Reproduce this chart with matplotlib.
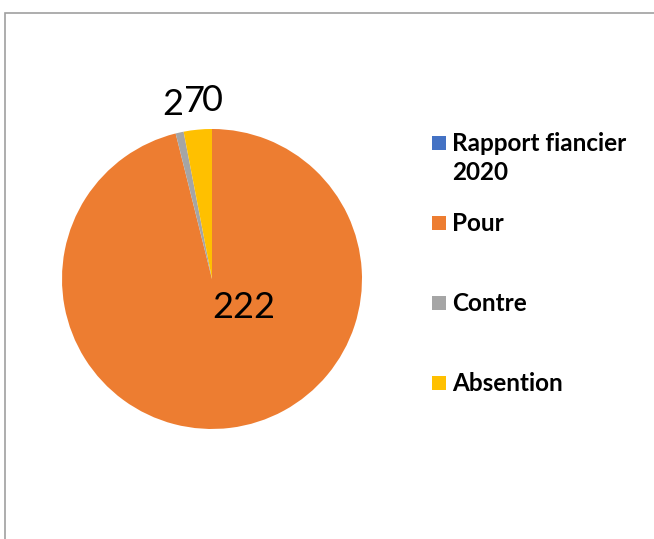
import numpy as np
import matplotlib
matplotlib.use("Agg")
import matplotlib.pyplot as plt
from matplotlib.patches import Rectangle

categories = ["Rapport fiancier\n2020", "Pour", "Contre", "Absention"]
values = [0, 222, 2, 7]
colors = ["#4472C4", "#ED7D31", "#A5A5A5", "#FFC000"]

plt.rcParams['font.family'] = ['Lato', 'DejaVu Sans']

W, H = 654, 539
fig = plt.figure(figsize=(W / 100, H / 100), dpi=100)

# chart area border (clipped at right and bottom)
fig.patches.append(Rectangle((5 / W, -0.1), 1.2, 1 - 13 / H + 0.1,
                             transform=fig.transFigure, fill=False,
                             edgecolor="#A0A0A0", linewidth=1.2))

ax = fig.add_axes([0.0948, 0.2041, 0.4587, 0.5566])
wedges, _ = ax.pie(values, colors=colors, startangle=90, counterclock=False,
                   radius=1.0, wedgeprops=dict(linewidth=0))
ax.set_xlim(-1, 1)
ax.set_ylim(-1, 1)
ax.set_aspect('equal')
ax.axis('off')

# data labels
for w, v in zip(wedges, values):
    mid = np.deg2rad((w.theta1 + w.theta2) / 2)
    if v == max(values):
        x, y = 0.21, -0.19
    else:
        x, y = 1.2 * np.cos(mid), 1.19 * np.sin(mid)
    ax.text(x, y, str(v), ha='center', va='center', fontsize=26,
            color='black', clip_on=False)

# legend (manual, Excel-like layout)
row_top = 143   # centre of first row marker, px from top
row_step = 80
line_step = 29
for i, (lab, c) in enumerate(zip(categories, colors)):
    yc = row_top + row_step * i
    fig.patches.append(Rectangle((432 / W, 1 - (yc + 7) / H), 14 / W, 14 / H,
                                 transform=fig.transFigure, facecolor=c,
                                 edgecolor='none'))
    for j, line in enumerate(lab.split("\n")):
        fig.text(452 / W, 1 - (yc + 8 + j * line_step) / H, line,
                 ha='left', va='baseline', fontsize=17.5, fontweight='bold',
                 color='black')

fig.savefig("out.png", dpi=100)
